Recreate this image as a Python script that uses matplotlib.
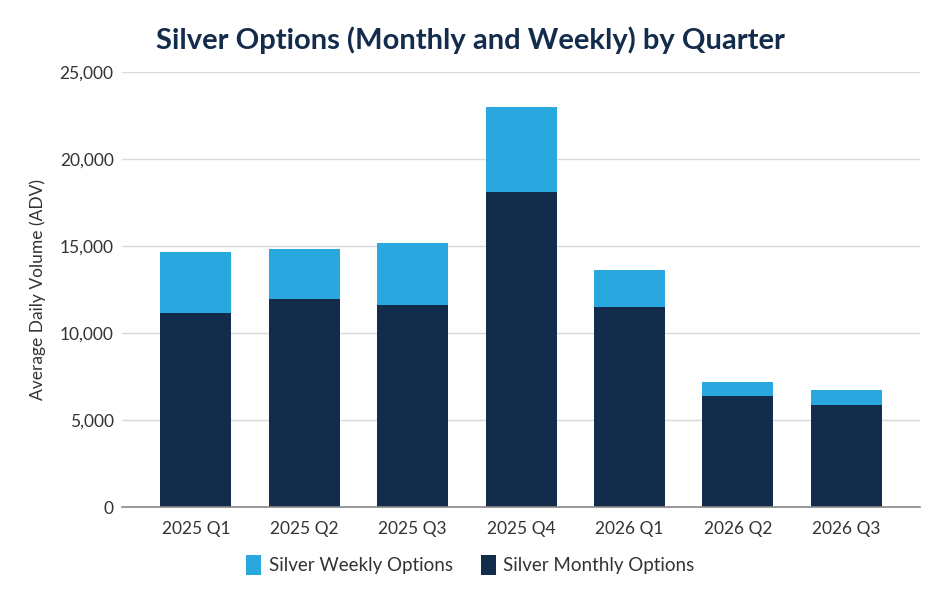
import numpy as np
import matplotlib.pyplot as plt

quarters = ['2025 Q1', '2025 Q2', '2025 Q3', '2025 Q4', '2026 Q1', '2026 Q2', '2026 Q3']
monthly = [11150, 11950, 11600, 18100, 11500, 6380, 5860]
weekly = [3500, 2880, 3570, 4890, 2120, 800, 860]

navy = '#132c4b'
blue = '#29a8e0'

plt.rcParams['font.family'] = ['Lato', 'DejaVu Sans']

fig = plt.figure(figsize=(9.41, 6.01), dpi=100)
ax = fig.add_axes([0.1297, 0.1564, 0.848, 0.7238])

x = np.arange(len(quarters))
ax.bar(x, monthly, width=0.655, color=navy, label='Silver Monthly Options', zorder=3)
ax.bar(x, weekly, bottom=monthly, width=0.655, color=blue, label='Silver Weekly Options', zorder=3)

ax.set_xlim(-0.68, 6.68)
ax.set_ylim(0, 25000)
ax.set_yticks(range(0, 25001, 5000))
ax.set_yticklabels([f'{v:,}' for v in range(0, 25001, 5000)])
ax.set_xticks(x)
ax.set_xticklabels(quarters)
ax.tick_params(axis='both', length=0, labelsize=12.5, colors='#333333')
ax.tick_params(axis='x', pad=10)
ax.tick_params(axis='y', pad=6)
ax.grid(axis='y', color='#d9d9d9', linewidth=1, zorder=0)
for s in ['top', 'right', 'left']:
    ax.spines[s].set_visible(False)
ax.spines['bottom'].set_color('#888888')
ax.spines['bottom'].set_linewidth(1.2)
ax.spines['bottom'].set_zorder(4)

ax.set_ylabel('Average Daily Volume (ADV)', fontsize=12.5, color='#333333', labelpad=10)
fig.text(0.5, 0.933, 'Silver Options (Monthly and Weekly) by Quarter', ha='center', va='center',
         fontsize=21, fontweight='bold', color=navy)

handles, labels = ax.get_legend_handles_labels()
fig.legend(handles[::-1], labels[::-1], loc='center', bbox_to_anchor=(0.5, 0.06), ncol=2,
           frameon=False, fontsize=13.5, handlelength=0.8, handleheight=1.2, columnspacing=1.5,
           handletextpad=0.4, labelcolor='#333333')

plt.savefig('out.png', dpi=100)
